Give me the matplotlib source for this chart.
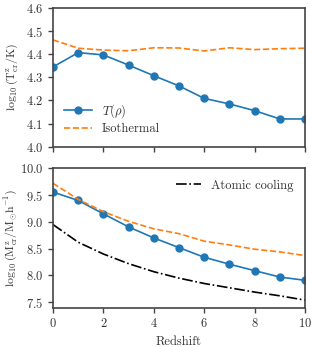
import numpy as np
import matplotlib
matplotlib.use('Agg')
import matplotlib.pyplot as plt

plt.rcParams['font.family'] = 'serif'
plt.rcParams['font.serif'] = ['cmr10', 'DejaVu Serif']
plt.rcParams['mathtext.fontset'] = 'cm'
plt.rcParams['axes.formatter.use_mathtext'] = True
plt.rcParams['font.size'] = 9
plt.rcParams['text.color'] = '#333333'
plt.rcParams['axes.labelcolor'] = '#333333'
plt.rcParams['xtick.labelcolor'] = '#333333'
plt.rcParams['ytick.labelcolor'] = '#333333'

redshift = [0, 1, 2, 3, 4, 5, 6, 7, 8, 9, 10]

# top panel: critical temperature
temp_rho = [4.345, 4.407, 4.397, 4.353, 4.307, 4.263, 4.209, 4.185, 4.156, 4.120, 4.120]
temp_iso = [4.462, 4.426, 4.418, 4.415, 4.428, 4.427, 4.414, 4.428, 4.420, 4.424, 4.426]

# bottom panel: critical mass
mass_rho = [9.556, 9.40, 9.15, 8.906, 8.70, 8.52, 8.34, 8.21, 8.09, 7.97, 7.91]
mass_iso = [9.72, 9.42, 9.19, 9.01, 8.87, 8.78, 8.64, 8.57, 8.49, 8.44, 8.37]
mass_atomic = [8.95, 8.62, 8.40, 8.22, 8.07, 7.95, 7.85, 7.77, 7.69, 7.62, 7.54]

blue = '#1f77b4'
orange = '#ff7f0e'

fig = plt.figure(figsize=(3.15, 3.47), dpi=100)
ax1 = fig.add_axes([53/315, 1 - 146.7/347, 252/315, 138.7/347])
ax2 = fig.add_axes([53/315, 1 - 307.6/347, 252/315, 139.3/347], sharex=ax1)

ax1.plot(redshift, temp_rho, '-o', color=blue, lw=1.2, ms=5, label=r'$T(\rho)$')
ax1.plot(redshift, temp_iso, '--', color=orange, lw=1.2, label='Isothermal')
ax1.set_ylim(4.0, 4.6)
ax1.set_yticks([4.0, 4.1, 4.2, 4.3, 4.4, 4.5, 4.6])
ax1.set_ylabel(r'$\log_{10}(\rm T^z_{cr}/K)$', fontsize=8.5)
ax1.legend(loc='lower left', frameon=False, bbox_to_anchor=(0.0, 0.0),
           labelspacing=0.25, handlelength=2.2)
plt.setp(ax1.get_xticklabels(), visible=False)

ax2.plot(redshift, mass_rho, '-o', color=blue, lw=1.2, ms=5)
ax2.plot(redshift, mass_iso, '--', color=orange, lw=1.2)
ax2.plot(redshift, mass_atomic, '-.', color='black', lw=1.2, label='Atomic cooling')
ax2.set_ylim(7.4, 10.0)
ax2.set_yticks([7.5, 8.0, 8.5, 9.0, 9.5, 10.0])
ax2.set_xlim(0, 10)
ax2.set_xticks([0, 2, 4, 6, 8, 10])
ax2.set_xlabel('Redshift')
ax2.set_ylabel(r'$\log_{10}(\rm M^z_{cr}/M_{\odot}h^{-1})$', fontsize=8.5)
ax2.legend(loc='upper right', frameon=False)

for ax in (ax1, ax2):
    for s in ax.spines.values():
        s.set_color('#444444')
        s.set_linewidth(1.2)
    ax.tick_params(direction='out', length=3.5, width=1, color='#444444')
    ax.yaxis.set_label_coords(-0.13, 0.5)

fig.savefig('out.png', dpi=100)
